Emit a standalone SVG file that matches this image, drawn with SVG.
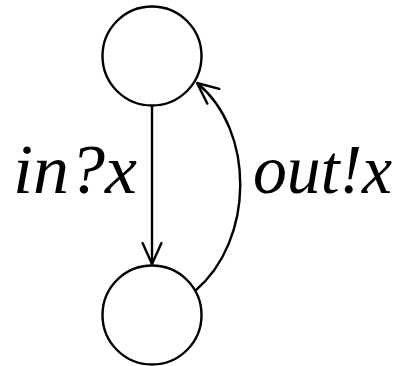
<svg xmlns="http://www.w3.org/2000/svg" width="402" height="366" viewBox="0 0 402 366">
<style>
.node{fill:#fff;stroke:#000;stroke-width:2.4}
.edge{fill:none;stroke:#000;stroke-width:2.4}
.lbl{font-family:"Liberation Serif","DejaVu Serif",serif;font-style:italic;font-size:70px;fill:#000}
</style>
<defs>
<marker id="arr" markerUnits="userSpaceOnUse" markerWidth="30" markerHeight="30" viewBox="-25 -15 30 30" refX="0" refY="0" orient="auto" overflow="visible">
<path d="M -21 -9.5 L 0 0 L -21 9.5" fill="none" stroke="#000" stroke-width="2.4" stroke-linecap="round" stroke-linejoin="round"/>
</marker>
</defs>
<g id="connectors">
<path class="edge" d="M 152 105 L 152 264" marker-end="url(#arr)"/>
<path class="edge" d="M 195 291 C 255 240 255 130 197 83" marker-end="url(#arr)"/>
<text class="lbl" x="13" y="193" textLength="124" lengthAdjust="spacingAndGlyphs">in?x</text>
<text class="lbl" x="253" y="193" textLength="139" lengthAdjust="spacingAndGlyphs">out!x</text>
</g>
<g id="s0"><circle class="node" cx="152" cy="56" r="49.5"/></g>
<g id="s1"><circle class="node" cx="152" cy="315" r="49.5"/></g>
</svg>
